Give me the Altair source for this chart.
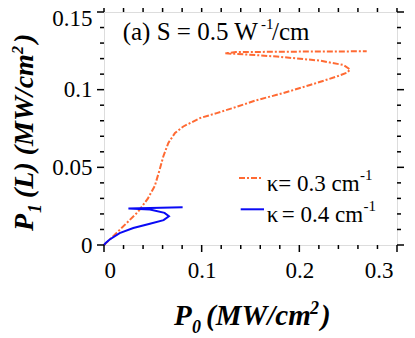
import altair as alt
import pandas as pd

# kappa = 0.3 cm^-1 (orange, dash-dot)
x03 = [0.0, 0.005, 0.0095, 0.023, 0.035, 0.045, 0.052, 0.057, 0.0607, 0.0659, 0.0727,
       0.0812, 0.0983, 0.1154, 0.136, 0.156, 0.1836, 0.211, 0.238, 0.249, 0.252,
       0.245, 0.221, 0.177, 0.1426, 0.124, 0.135, 0.2, 0.269]
y03 = [0.0, 0.003, 0.0057, 0.014, 0.0215, 0.030, 0.038, 0.0485, 0.057, 0.0657, 0.0721,
       0.0763, 0.0817, 0.0849, 0.089, 0.0932, 0.0978, 0.103, 0.1084, 0.111, 0.113,
       0.1159, 0.1187, 0.1213, 0.1228, 0.1234, 0.1242, 0.1245, 0.1247]
# kappa = 0.4 cm^-1 (blue, solid)
x04 = [0.0, 0.002, 0.0055, 0.016, 0.030, 0.047, 0.061, 0.0665, 0.062, 0.047, 0.025, 0.0805]
y04 = [0.0, 0.0015, 0.0034, 0.0077, 0.0109, 0.0137, 0.016, 0.0185, 0.0207, 0.0229, 0.0235, 0.0243]

x_major = [0, 0.1, 0.2, 0.3]
x_minor = [0.02, 0.04, 0.06, 0.08, 0.12, 0.14, 0.16, 0.18, 0.22, 0.24, 0.26, 0.28]
y_major = [0, 0.05, 0.1, 0.15]
y_minor = [0.01, 0.02, 0.03, 0.04, 0.06, 0.07, 0.08, 0.09, 0.11, 0.12, 0.13, 0.14]

W, H = 293, 233
FONT = "Liberation Serif"
ORANGE = "#FF6A33"
BLUE = "#0A0AF5"

xs = alt.Scale(domain=[0, 0.3], nice=False, zero=False)
ys = alt.Scale(domain=[0, 0.15], nice=False, zero=False)

df03 = pd.DataFrame({"x": x03, "y": y03, "i": list(range(len(x03)))})
df04 = pd.DataFrame({"x": x04, "y": y04, "i": list(range(len(x04)))})

xaxis = alt.Axis(values=x_major, format="~g", title=None, domain=False, ticks=False,
                 tickSize=0, grid=False, labelFont=FONT, labelFontSize=23,
                 labelColor="black", labelPadding=14,
                 labelOffset={"condition": {"test": "datum.value > 0.29", "value": -4}, "value": 0})
yaxis = alt.Axis(values=y_major, format="~g", title=None, domain=False, ticks=False,
                 tickSize=0, grid=False, labelFont=FONT, labelFontSize=23,
                 labelColor="black", labelPadding=12,
                 labelOffset={"condition": {"test": "datum.value > 0.14", "value": 6}, "value": 0})

orange = alt.Chart(df03).mark_line(color=ORANGE, strokeWidth=2, strokeDash=[6, 2, 2, 2]).encode(
    x=alt.X("x:Q", scale=xs, axis=xaxis),
    y=alt.Y("y:Q", scale=ys, axis=yaxis),
    order="i:Q",
)
blue = alt.Chart(df04).mark_line(color=BLUE, strokeWidth=2).encode(
    x=alt.X("x:Q", scale=xs),
    y=alt.Y("y:Q", scale=ys),
    order="i:Q",
)

def xticks(vals, length):
    d = pd.DataFrame({"v": vals})
    bot = alt.Chart(d).mark_rule(color="black", strokeWidth=1.5).encode(
        x=alt.X("v:Q", scale=xs), y=alt.value(H), y2=alt.value(H + length))
    top = alt.Chart(d).mark_rule(color="black", strokeWidth=1.5).encode(
        x=alt.X("v:Q", scale=xs), y=alt.value(0), y2=alt.value(-length))
    return [bot, top]

def yticks(vals, length):
    d = pd.DataFrame({"v": vals})
    left = alt.Chart(d).mark_rule(color="black", strokeWidth=1.5).encode(
        y=alt.Y("v:Q", scale=ys), x=alt.value(0), x2=alt.value(-length))
    right = alt.Chart(d).mark_rule(color="black", strokeWidth=1.5).encode(
        y=alt.Y("v:Q", scale=ys), x=alt.value(W), x2=alt.value(W + length))
    return [left, right]

tick_layers = xticks(x_major, 7) + xticks(x_minor, 4) + yticks(y_major, 7) + yticks(y_minor, 4)

one = pd.DataFrame({"a": [0]})

def txt(s, x, y, size=23, angle=0, bold=False, italic=False, color="black"):
    kw = dict(font=FONT, fontSize=size, align="left", baseline="alphabetic", color=color)
    if angle:
        kw["angle"] = angle
    if bold:
        kw["fontWeight"] = "bold"
    if italic:
        kw["fontStyle"] = "italic"
    return alt.Chart(one).mark_text(**kw).encode(x=alt.value(x), y=alt.value(y), text=alt.value(s))

texts = [
    # panel title
    txt("(a) S = 0.5 W", 18.7, 28, size=25),
    txt("-1", 157, 17, size=15),
    txt("/cm", 168, 28, size=25),
    # legend
    txt("\u03ba", 162.7, 178.7),
    txt("= 0.3 cm", 174.3, 178.7),
    txt("-1", 256, 168, size=15),
    txt("\u03ba", 162.7, 209.7),
    txt("= 0.4 cm", 177.7, 209.7),
    txt("-1", 259.5, 199, size=15),
    # x title
    txt("P", 70, 313, size=29, bold=True, italic=True),
    txt("0", 88, 321, size=18, bold=True, italic=True),
    txt("(MW/cm", 102, 313, size=29, bold=True, italic=True),
    txt("2", 206, 302, size=18, bold=True, italic=True),
    txt(")", 217, 313, size=29, bold=True, italic=True),
    # y title (rotated)
    txt("P", -71, 219, size=28, angle=270, bold=True, italic=True),
    txt("1", -63, 201, size=18, angle=270, bold=True, italic=True),
    txt("(L) (MW/cm", -71, 186, size=28, angle=270, bold=True, italic=True),
    txt("2", -81, 42, size=16, angle=270, bold=True, italic=True),
    txt(")", -71, 31, size=28, angle=270, bold=True, italic=True),
]

legend_lines = [
    alt.Chart(one).mark_rule(color=ORANGE, strokeWidth=2, strokeDash=[6, 2, 2, 2]).encode(
        x=alt.value(135), x2=alt.value(159), y=alt.value(166)),
    alt.Chart(one).mark_rule(color=BLUE, strokeWidth=2).encode(
        x=alt.value(136.7), x2=alt.value(160), y=alt.value(197.3)),
]

chart = alt.layer(orange, blue, *tick_layers, *legend_lines, *texts).properties(
    width=W, height=H,
    autosize=alt.AutoSizeParams(type="none"),
    padding={"left": 96, "top": 4, "right": 10, "bottom": 92},
).configure_view(stroke="black", strokeWidth=1.5).configure(background="white")

chart.save("out.html", embed_options={"renderer": "svg", "actions": False})
